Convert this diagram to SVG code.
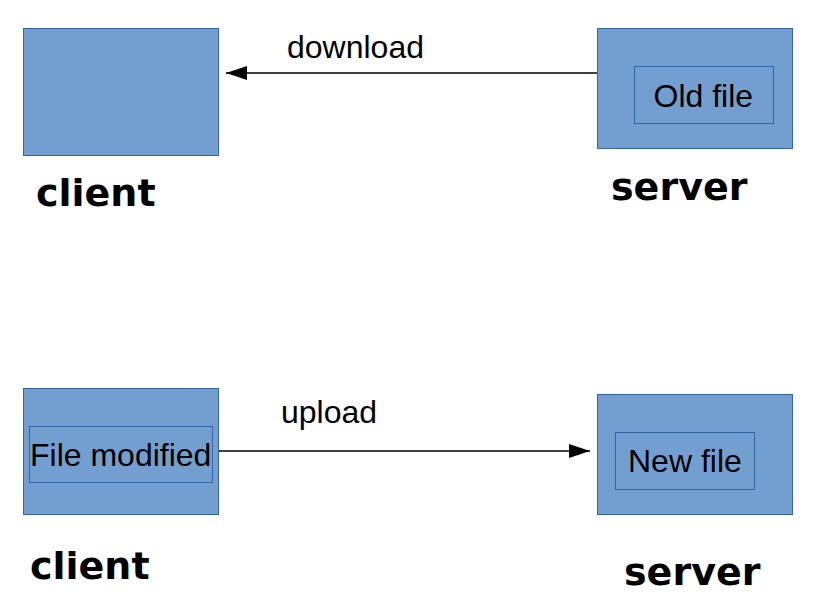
<svg xmlns="http://www.w3.org/2000/svg" width="832" height="610" viewBox="0 0 832 610">
<style>
.box{fill:#729fcf;stroke:#3465a4;stroke-width:1}
.inner{fill:none;stroke:#3465a4;stroke-width:1}
.t{font-family:"Liberation Sans",Arial,sans-serif;font-size:32px;fill:#000}
.lbl{font-family:"DejaVu Sans",sans-serif;font-weight:bold;font-size:38px;fill:#000}
.con{stroke:#000;stroke-width:1.5;fill:none}
</style>
<defs>
<marker id="ah" markerWidth="21" markerHeight="14" refX="21" refY="7" orient="auto" markerUnits="userSpaceOnUse">
<path d="M0,0 L21,7 L0,14 Z" fill="#000"/>
</marker>
</defs>
<rect width="832" height="610" fill="#fff"/>
<g id="client-top">
<rect class="box" x="23.5" y="28.5" width="195" height="127"/>
<text class="lbl" x="36" y="206">client</text>
</g>
<g id="server-top">
<rect class="box" x="597.5" y="28.5" width="195" height="120"/>
<rect class="inner" x="634.5" y="66.5" width="139" height="57"/>
<text class="t" x="653.5" y="107">Old file</text>
<text class="lbl" x="611" y="200">server</text>
</g>
<g id="client-bottom">
<rect class="box" x="23.5" y="388.5" width="195" height="126"/>
<rect class="inner" x="29.5" y="426.5" width="183" height="56"/>
<text class="t" x="30" y="466">File modified</text>
<text class="lbl" x="30" y="579">client</text>
</g>
<g id="server-bottom">
<rect class="box" x="597.5" y="394.5" width="195" height="120"/>
<rect class="inner" x="615.5" y="432.5" width="139" height="57"/>
<text class="t" x="628" y="472">New file</text>
<text class="lbl" x="624" y="585">server</text>
</g>
<g id="connectors">
<line class="con" x1="597" y1="73" x2="226" y2="73" marker-end="url(#ah)"/>
<text class="t" x="287" y="58">download</text>
<line class="con" x1="219" y1="451" x2="590" y2="451" marker-end="url(#ah)"/>
<text class="t" x="281" y="423">upload</text>
</g>
</svg>
